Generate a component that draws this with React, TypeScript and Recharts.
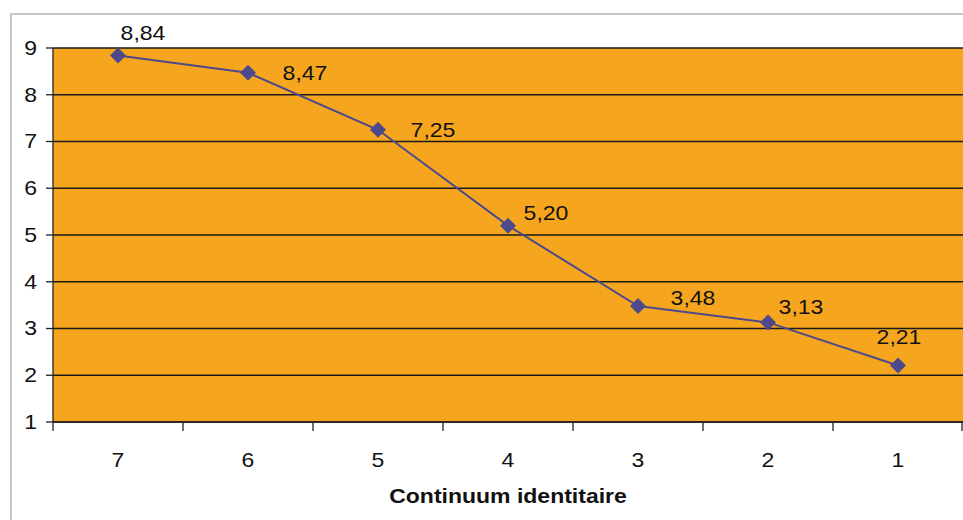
import { LineChart, Line, XAxis, YAxis, CartesianGrid, LabelList } from "recharts";

// Continuum identitaire, from 7 down to 1
const categories = ["7", "6", "5", "4", "3", "2", "1"];
const scores = [8.84, 8.47, 7.25, 5.2, 3.48, 3.13, 2.21];
const yTicks = [1, 2, 3, 4, 5, 6, 7, 8, 9];

const data = categories.map((c, i) => ({ name: c, score: scores[i] }));

const WIDTH = 963;
const HEIGHT = 520;
const PLOT_LEFT = 53;
const PLOT_BOTTOM = 422;
const BAND = (WIDTH - PLOT_LEFT) / categories.length;

const LINE_COLOR = "#4d4a8b";
const FONT = "'Liberation Sans', Arial, sans-serif";
const STRETCH = 1.15; // the original text is a bit wider than Arial

// label offsets relative to each point (placed by hand in the original)
const labelOffsets: [number, number][] = [
    [25, -22], [57, 0], [55, 0], [38, -13], [55, -8], [33, -15], [1, -28],
];

const Wide = ({ x, y, children, anchor = "middle", ...rest }: any) => (
    <g transform={`translate(${x},${y}) scale(${STRETCH},1)`}>
        <text x={0} y={0} textAnchor={anchor} fontFamily={FONT} fill="#111" {...rest}>
            {children}
        </text>
    </g>
);

const Diamond = (props: any) => {
    const { cx, cy } = props;
    if (cx == null || cy == null) return null;
    const r = 8;
    return (
        <polygon
            points={`${cx},${cy - r} ${cx + r},${cy} ${cx},${cy + r} ${cx - r},${cy}`}
            fill={LINE_COLOR}
        />
    );
};

const ValueLabel = (props: any) => {
    const { x, y, value, index } = props;
    const [dx, dy] = labelOffsets[index] || [0, -20];
    return (
        <Wide x={x + dx} y={y + dy} dominantBaseline="central" fontSize={20}>
            {Number(value).toFixed(2).replace(".", ",")}
        </Wide>
    );
};

const XTick = (props: any) => {
    const { x, y, payload, index } = props;
    const half = BAND / 2;
    return (
        <g>
            <line x1={x - half} y1={y - 8} x2={x - half} y2={y + 1} stroke="#222" strokeWidth={1.3} />
            {index === categories.length - 1 && (
                <line x1={x + half - 1} y1={y - 8} x2={x + half - 1} y2={y + 1} stroke="#222" strokeWidth={1.3} />
            )}
            <Wide x={x} y={y + 37} fontSize={20}>{payload.value}</Wide>
        </g>
    );
};

const YTick = (props: any) => {
    const { x, y, payload } = props;
    return (
        <Wide x={x} y={y} anchor="end" dominantBaseline="central" fontSize={20}>
            {payload.value}
        </Wide>
    );
};

const XTitle = () => (
    <Wide x={PLOT_LEFT + (WIDTH - PLOT_LEFT) / 2} y={PLOT_BOTTOM + 81} fontSize={20} fontWeight={700}>
        Continuum identitaire
    </Wide>
);

export default function App() {
    return (
        <div style={{ position: "absolute", left: 0, top: 0, width: WIDTH, height: HEIGHT, background: "#fff", overflow: "hidden" }}>
            <div style={{ position: "absolute", left: 10, top: 13, width: WIDTH, height: HEIGHT, border: "2px solid #c8c8c8" }} />
            <div style={{ position: "absolute", left: 0, top: 0 }}>
                <LineChart width={WIDTH} height={HEIGHT} data={data}
                    margin={{ top: 48, right: 0, left: 0, bottom: 0 }}>
                    <CartesianGrid vertical={false} fill="#f6a51f" stroke="#1a1a1a" strokeWidth={1.3} fillOpacity={1} />
                    <XAxis dataKey="name" scale="band" height={HEIGHT - PLOT_BOTTOM} axisLine={{ stroke: "#222", strokeWidth: 1.3 }}
                        tickLine={false} tick={<XTick />} interval={0} label={<XTitle />} />
                    <YAxis width={PLOT_LEFT} domain={[1, 9]} ticks={yTicks} interval={0}
                        axisLine={{ stroke: "#222", strokeWidth: 1.3 }}
                        tickLine={{ stroke: "#222", strokeWidth: 1.3 }} tickSize={7} tickMargin={9}
                        tick={<YTick />} />
                    <Line type="linear" dataKey="score" stroke={LINE_COLOR} strokeWidth={2}
                        dot={<Diamond />} activeDot={false} isAnimationActive={false}>
                        <LabelList dataKey="score" content={<ValueLabel />} />
                    </Line>
                </LineChart>
            </div>
        </div>
    );
}
